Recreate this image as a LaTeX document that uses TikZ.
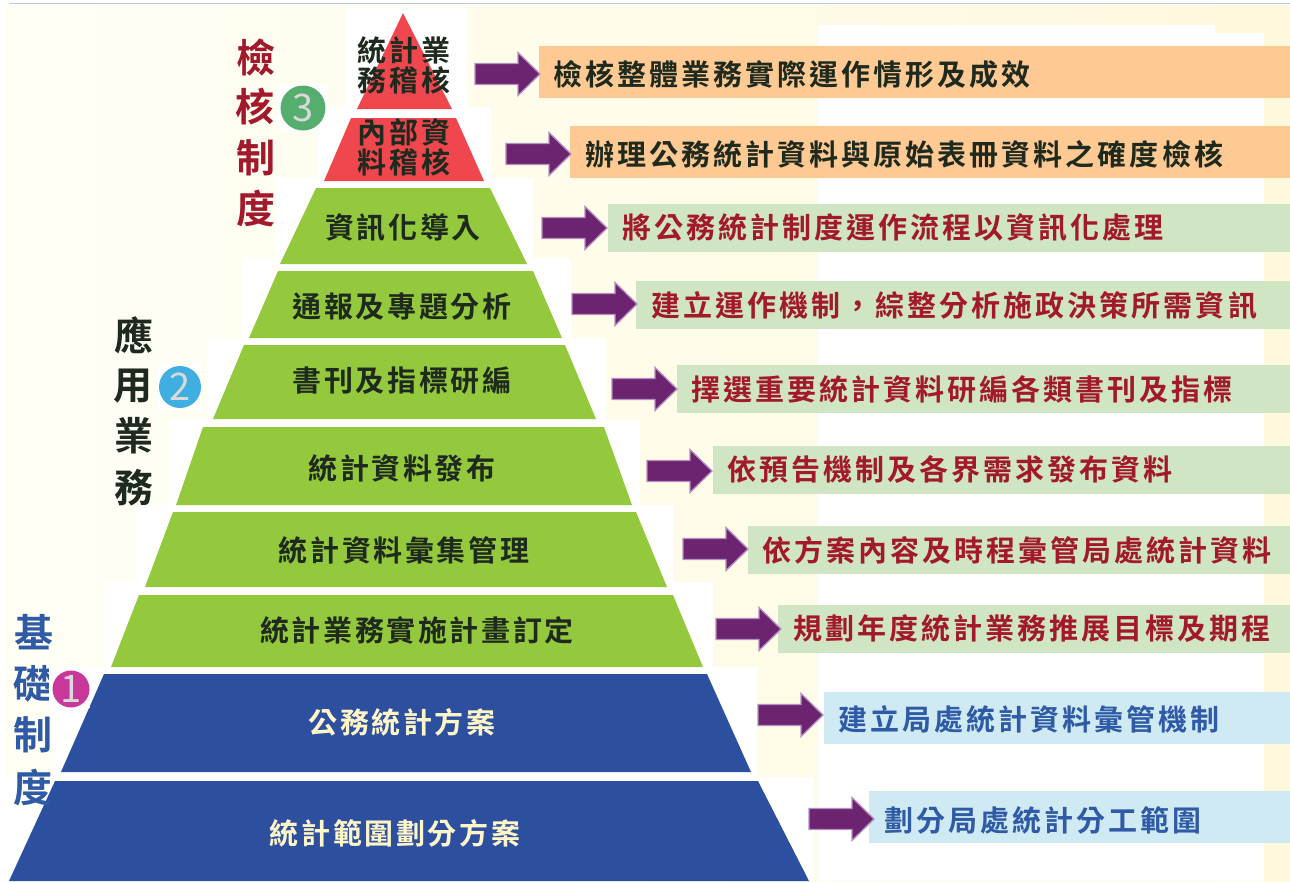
\documentclass[tikz,border=0pt]{standalone}
\usepackage{fontspec}
\setmainfont{Noto Sans CJK TC}[BoldFont={Noto Sans CJK TC Bold}]
\newfontfamily\spaced{Noto Sans CJK TC}[BoldFont={Noto Sans CJK TC Bold},LetterSpace=10.5]
\newfontfamily\spacedt{Noto Sans CJK TC}[BoldFont={Noto Sans CJK TC Bold},LetterSpace=9]
\definecolor{creamA}{HTML}{FFFFF6}
\definecolor{creamB}{HTML}{FEF8DC}
\definecolor{redtier}{HTML}{F0474F}
\definecolor{greentier}{HTML}{95C93D}
\definecolor{bluetier}{HTML}{2C4F9F}
\definecolor{orangebar}{HTML}{FFC993}
\definecolor{greenbar}{HTML}{CFE5C3}
\definecolor{bluebar}{HTML}{CFEAF2}
\definecolor{arrowfill}{HTML}{6C2470}
\definecolor{arrowedge}{HTML}{B58FC0}
\definecolor{redtext}{HTML}{A2192B}
\definecolor{darktext}{HTML}{1E2A1E}
\definecolor{bluetext}{HTML}{2F5AA6}
\definecolor{creamtext}{HTML}{FFF6C8}
\definecolor{lineblue}{HTML}{B4CFD8}
\definecolor{badgegreen}{HTML}{55AE6E}
\definecolor{badgeblue}{HTML}{3FAEE0}
\definecolor{badgepink}{HTML}{C9379B}
\tikzset{
 x=1pt,y=-1pt,
 tiertext/.style={font=\spacedt\bfseries\fontsize{29}{30}\selectfont,text=darktext,inner sep=0pt,align=center},
 bartext/.style={font=\spaced\bfseries\fontsize{29}{30}\selectfont,inner sep=0pt,anchor=west},
 bigchar/.style={font=\bfseries\fontsize{39}{40}\selectfont,inner sep=0pt},
 flowarrow/.style={fill=arrowfill,draw=arrowedge,line width=1.3pt,line join=miter},
 badge/.style={circle,inner sep=0pt,font=\fontsize{38}{38}\selectfont,text=white!85!black}
}
\newcommand{\flowarr}[2]{\draw[flowarrow] (#1,#2-10.5) -- (#1+43,#2-10.5) -- (#1+43,#2-21.5) -- (#1+65,#2) -- (#1+43,#2+21.5) -- (#1+43,#2+10.5) -- (#1,#2+10.5) -- cycle;}
\begin{document}
\begin{tikzpicture}
\useasboundingbox (0,0) rectangle (1290,881);
\fill[white] (0,0) rectangle (1290,881);
\shade[left color=creamA,right color=creamB] (4,5) rectangle (1290,881);
\draw[color=lineblue,line width=1pt] (9,3) -- (1290,3);
% white backing panels
\fill[white] (818,25) -- (1215,25) -- (1215,33) -- (1264,33) -- (1264,881) -- (818,881) -- cycle;
\fill[white] (346,8) rectangle (467,108);
\fill[white] (318,107) rectangle (491,183);
\fill[white] (275,178) rectangle (533,258);
\fill[white] (242,258) rectangle (571,338);
\fill[white] (207,338) rectangle (606,420);
\fill[white] (169,420) rectangle (640,505);
\fill[white] (135,505) rectangle (673,582);
\fill[white] (105,582) rectangle (713,667);
\fill[white] (90,667) rectangle (758,777);
\fill[white] (54,707) rectangle (90,777);
\fill[white] (0,777) rectangle (814,881);
% tiers
\fill[redtier] (403,13) -- (452,109) -- (357,109) -- cycle;
\fill[redtier] (351,118) -- (456,118) -- (484,181) -- (324,181) -- cycle;
\fill[greentier] (316,188) -- (490,188) -- (527,264) -- (280,264) -- cycle;
\fill[greentier] (278,271) -- (533,271) -- (562,338) -- (249,338) -- cycle;
\fill[greentier] (244,345) -- (565,345) -- (596,419) -- (213,419) -- cycle;
\fill[greentier] (203,427) -- (604,427) -- (632,505) -- (176,505) -- cycle;
\fill[greentier] (173,512) -- (636,512) -- (667,587) -- (145,587) -- cycle;
\fill[greentier] (139,595) -- (673,595) -- (703,667) -- (111,667) -- cycle;
\fill[bluetier] (104,674) -- (707,674) -- (751,772) -- (61,772) -- cycle;
\fill[bluetier] (55,781) -- (758,781) -- (809,881) -- (9,881) -- cycle;
% tier labels
\node[tiertext] (t1) at (404,65) {統計業\\務稽核};
\node[tiertext] (t2) at (404,147) {內部資\\料稽核};
\node[tiertext] (t3) at (403,228) {資訊化導入};
\node[tiertext] (t4) at (402,307) {通報及專題分析};
\node[tiertext] (t5) at (402,381) {書刊及指標研編};
\node[tiertext] (t6) at (402,468) {統計資料發布};
\node[tiertext] (t7) at (404,550) {統計資料彙集管理};
\node[tiertext] (t8) at (417,630) {統計業務實施計畫訂定};
\node[tiertext,text=creamtext] (t9) at (402,722) {公務統計方案};
\node[tiertext,text=creamtext] (t10) at (395,833) {統計範圍劃分方案};
% bars
\fill[orangebar] (539,46) rectangle (1290,98);
\fill[orangebar] (570,126) rectangle (1290,178);
\fill[greenbar] (608,204) rectangle (1290,252);
\fill[greenbar] (636,281) rectangle (1290,329);
\fill[greenbar] (677,365) rectangle (1290,413);
\fill[greenbar] (713,446) rectangle (1290,494);
\fill[greenbar] (748,526) rectangle (1290,574);
\fill[greenbar] (778,605) rectangle (1290,653);
\fill[bluebar] (824,692) rectangle (1290,744);
\fill[bluebar] (869,791) rectangle (1290,843);
\node[bartext,text=darktext] (b1) at (553,74) {檢核整體業務實際運作情形及成效};
\node[bartext,text=darktext] (b2) at (585,154) {辦理公務統計資料與原始表冊資料之確度檢核};
\node[bartext,text=redtext] (b3) at (622,228) {將公務統計制度運作流程以資訊化處理};
\node[bartext,text=redtext] (b4) at (651,306) {建立運作機制，綜整分析施政決策所需資訊};
\node[bartext,text=redtext] (b5) at (691,390) {擇選重要統計資料研編各類書刊及指標};
\node[bartext,text=redtext] (b6) at (727,470) {依預告機制及各界需求發布資料};
\node[bartext,text=redtext] (b7) at (762,550) {依方案內容及時程彙管局處統計資料};
\node[bartext,text=redtext] (b8) at (793,629) {規劃年度統計業務推展目標及期程};
\node[bartext,text=bluetext] (b9) at (838,719) {建立局處統計資料彙管機制};
\node[bartext,text=bluetext] (b10) at (884,820) {劃分局處統計分工範圍};
% arrows
\flowarr{475}{74}
\flowarr{506}{154}
\flowarr{542}{228}
\flowarr{572}{304}
\flowarr{612}{389}
\flowarr{647}{471}
\flowarr{683}{549}
\flowarr{716}{629}
\flowarr{758}{715}
\flowarr{809}{819}
% side captions
\node[bigchar,text=redtext] (c1) at (256,57) {檢};
\node[bigchar,text=redtext] (c2) at (255,107) {核};
\node[bigchar,text=redtext] (c3) at (256,158) {制};
\node[bigchar,text=redtext] (c4) at (256,209) {度};
\node[bigchar,text=darktext] (c5) at (134,335) {應};
\node[bigchar,text=darktext] (c6) at (133,386) {用};
\node[bigchar,text=darktext] (c7) at (134,436) {業};
\node[bigchar,text=darktext] (c8) at (134,488) {務};
\node[bigchar,text=bluetext] (c9) at (34,632) {基};
\node[bigchar,text=bluetext] (c10) at (33,684) {礎};
\node[bigchar,text=bluetext] (c11) at (33,735) {制};
\node[bigchar,text=bluetext] (c12) at (33,788) {度};
% badges
\fill[white] (278,84) rectangle (328,132);
\fill[white] (158,364) rectangle (202,410);
\fill[white] (49,667) rectangle (90,708);
\node[badge,fill=badgegreen,minimum size=45pt] (n3) at (303,108) {3};
\node[badge,fill=badgeblue,minimum size=42pt] (n2) at (180,387) {2};
\node[badge,fill=badgepink,minimum size=37pt] (n1) at (71,689) {1};
\end{tikzpicture}
\end{document}
